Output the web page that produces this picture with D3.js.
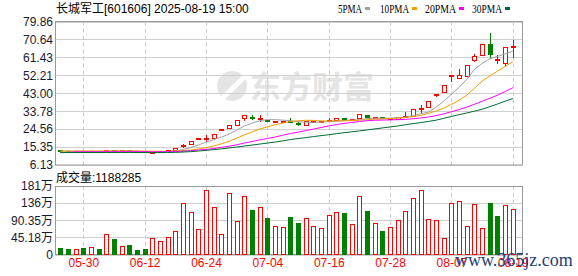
<!DOCTYPE html>
<html>
<head>
<meta charset="utf-8">
<script src="https://cdn.jsdelivr.net/npm/d3@7"></script>
<style>
body { margin: 0; background: #fff; }
svg { display: block; font-family: "Liberation Sans", Arial, "Noto Sans CJK SC", sans-serif; }
</style>
</head>
<body>
<svg width="578" height="276"></svg>
<script>
// trading days shown on the chart
const dates = ["05-27","05-28","05-29","05-30","06-03","06-04","06-05","06-06","06-09","06-10",
  "06-11","06-12","06-13","06-16","06-17","06-18","06-19","06-20","06-23","06-24",
  "06-25","06-26","06-27","06-30","07-01","07-02","07-03","07-04","07-07","07-08",
  "07-09","07-10","07-11","07-14","07-15","07-16","07-17","07-18","07-21","07-22",
  "07-23","07-24","07-25","07-28","07-29","07-30","07-31","08-01","08-04","08-05",
  "08-06","08-07","08-08","08-11","08-12","08-13","08-14","08-15","08-18","08-19"];

const opens = [13.40,13.30,13.20,13.28,13.20,13.28,13.70,13.80,13.50,13.35,
  13.05,12.90,12.70,12.78,12.95,13.45,16.06,16.73,19.24,19.60,
  19.95,23.99,24.72,26.46,30.04,30.35,29.95,29.17,28.15,28.35,
  28.55,27.25,26.61,28.00,28.30,29.05,28.81,30.00,28.90,30.04,
  31.80,30.30,30.70,29.80,29.50,31.10,30.86,35.00,35.67,41.80,
  43.51,51.85,50.52,51.85,59.89,62.45,68.24,60.10,58.20,66.50];
const closes = [13.28,13.22,13.26,13.20,13.27,13.22,13.78,13.55,13.60,13.05,
  12.85,12.75,12.78,12.90,13.40,14.68,16.37,18.27,19.65,19.85,
  21.85,24.41,26.35,28.91,31.73,30.05,30.15,28.30,28.45,28.50,
  28.40,27.05,28.51,28.60,28.70,29.20,30.20,29.20,29.50,32.24,
  30.70,30.75,29.90,30.00,30.60,31.30,34.80,35.20,38.90,42.10,
  47.09,51.90,52.20,57.33,61.94,68.08,63.12,60.30,66.40,66.90];
const highs = [13.45,13.35,13.32,13.33,13.36,13.30,13.95,13.85,13.68,13.40,
  13.10,12.95,12.85,12.98,13.45,14.84,16.88,18.40,19.80,21.34,
  22.00,24.50,26.45,29.00,31.99,31.58,31.73,29.30,28.60,28.60,
  30.04,27.98,28.60,28.80,28.90,30.04,30.30,30.10,29.60,32.40,
  32.00,31.00,30.90,30.20,30.80,33.11,35.00,36.85,39.00,42.84,
  47.30,52.00,55.60,57.50,63.32,68.20,73.72,62.45,66.60,70.13];
const lows = [13.20,13.15,13.16,13.12,13.15,13.16,13.55,13.50,13.40,13.00,
  12.80,12.70,12.65,12.72,12.90,13.40,15.09,16.60,19.10,18.06,
  19.80,23.90,24.60,26.30,28.90,29.17,28.30,28.20,27.48,28.20,
  28.25,26.25,26.50,27.90,28.20,28.00,28.70,29.10,28.80,29.90,
  30.50,30.20,29.80,29.60,29.40,30.04,30.70,32.09,35.50,41.10,
  43.30,48.78,50.40,51.70,59.02,62.30,60.56,58.20,56.97,61.07];

// volume in 万 shares
const volumes = [15.7,13,12,16,18,13,54,39,21,24,
  10.5,13,41,34,44.5,60,135,112,65.5,168,
  125,54,162,88,154,115,125,95,73,71,
  97,81,94,75,68,102,110,107,79,152,
  113,81,60,71,89,113,149,168,92,89,
  42,134,141,73,131,68,134,99.6,128,118.8285];

const ma5 = [13.25,13.25,13.25,13.24,13.24,13.24,13.30,13.35,13.40,13.40,
  13.30,12.80,12.75,12.80,12.95,13.30,14.07,15.09,16.37,17.91,
  19.19,20.47,22.00,24.05,26.10,27.63,28.91,29.43,29.43,29.17,
  28.91,28.40,28.15,27.99,28.15,28.40,28.66,28.91,29.17,29.43,
  29.94,30.19,30.19,30.19,30.45,30.71,31.47,32.50,33.27,35.83,
  38.90,42.48,46.07,50.16,55.28,58.35,60.66,61.94,63.22,64.65];
const ma10 = [13.30,13.30,13.30,13.28,13.28,13.27,13.30,13.33,13.35,13.35,
  13.32,13.28,13.22,13.18,13.15,13.25,13.55,13.80,14.35,15.05,
  15.90,17.00,18.30,19.90,21.60,23.10,24.60,25.70,26.80,27.70,
  28.45,28.85,29.10,29.05,28.80,28.75,28.75,28.85,28.95,29.15,
  29.40,29.70,29.80,30.00,30.20,30.55,31.00,31.60,32.60,33.90,
  35.40,37.30,39.40,42.00,45.60,49.20,51.90,54.30,56.80,59.20];
const ma20 = [12.50,12.60,12.90,12.92,12.95,12.95,12.97,12.98,13.00,13.00,
  13.00,12.98,12.96,12.95,12.96,13.05,13.20,13.45,13.80,14.15,
  14.60,15.20,15.80,16.50,17.40,18.20,19.00,19.75,20.50,21.40,
  22.30,23.00,23.80,24.60,25.40,26.20,26.90,27.50,28.00,28.50,
  28.90,29.10,29.20,29.30,29.40,29.60,29.90,30.30,30.80,31.50,
  32.40,33.50,34.60,35.90,37.30,38.90,40.40,42.00,43.90,45.80];
const ma30 = [12.53,12.53,12.53,12.53,12.53,12.53,12.53,12.53,12.53,12.53,
  12.53,12.53,12.53,12.53,12.53,12.63,12.79,12.99,13.30,13.66,
  14.02,14.43,14.89,15.35,15.86,16.37,16.88,17.39,17.91,18.52,
  19.19,19.70,20.21,20.72,21.23,21.69,22.21,22.72,23.18,23.64,
  24.15,24.67,25.18,25.69,26.20,26.82,27.38,27.94,28.51,29.17,
  30.09,31.06,31.99,32.86,33.78,34.80,36.08,37.46,38.90,40.28];

const priceTicks = [6.13,15.35,24.56,33.78,43.00,52.21,61.43,70.64,79.86];
const volTicks = [0,45.18,90.35,135.53,180.7];
const volTickLabels = ["0","45.18万","90.35万","136万","181万"];
const xLabels = ["05-30","06-12","06-24","07-04","07-16","07-28","08-07","08-19"];
const legendLabels = ["5PMA","10PMA","20PMA","30PMA"];

const RED = "#ff0000", GREEN = "#008000";
const maColors = ["#a0a0a0","#f0a000","#ff00ff","#006b30"];

const left = 55, right = 522;
const x = d3.scalePoint().domain(dates).range([60.3, 512.8]);
const y = d3.scaleLinear().domain([6.13, 79.86]).range([165, 21.5]);
const yv = d3.scaleLinear().domain([0, 180.7]).range([254.5, 186]);

const svg = d3.select("svg");
svg.append("rect").attr("width", 578).attr("height", 276).attr("fill", "#fff");

// watermark
const wm = svg.append("g").attr("fill", "#e4e4e4");
wm.append("circle").attr("cx", 232).attr("cy", 86).attr("r", 15);
wm.append("path").attr("d", "M220,97 L244,74 L247,78 L224,100 Z").attr("fill", "#fff");
wm.append("text").attr("x", 250).attr("y", 98)
  .attr("font-size", 31).attr("font-weight", "bold")
  .attr("font-family", "'Noto Sans CJK SC', sans-serif")
  .text("东方财富");

// horizontal grid
svg.append("g").attr("transform", `translate(${left},0)`)
  .call(d3.axisLeft(y).tickValues(priceTicks).tickSize(-(right - left)).tickFormat(""))
  .call(g => g.select(".domain").remove())
  .call(g => g.selectAll("line").attr("stroke", "#d0d0d0").attr("shape-rendering", "crispEdges"));
svg.append("g").attr("transform", `translate(${left},0)`)
  .call(d3.axisLeft(yv).tickValues(volTicks).tickSize(-(right - left)).tickFormat(""))
  .call(g => g.select(".domain").remove())
  .call(g => g.selectAll("line").attr("stroke", "#d0d0d0").attr("shape-rendering", "crispEdges"));

// vertical dashed grid
[[21.5, 165], [186, 254.5]].forEach(([t, b]) => {
  svg.append("g").selectAll("line").data(xLabels).enter().append("line")
    .attr("x1", d => Math.round(x(d)) + 0.5).attr("x2", d => Math.round(x(d)) + 0.5)
    .attr("y1", t).attr("y2", b)
    .attr("stroke", "#cccccc").attr("stroke-dasharray", "4,3");
});

// panel borders
svg.append("rect").attr("x", left + 0.5).attr("y", 21.5).attr("width", right - left).attr("height", 143.5)
  .attr("fill", "none").attr("stroke", "#999");
svg.append("rect").attr("x", left + 0.5).attr("y", 186.5).attr("width", right - left).attr("height", 68)
  .attr("fill", "none").attr("stroke", "#999");

// y labels
svg.append("g").attr("transform", `translate(${left - 1},0)`)
  .call(d3.axisLeft(y).tickValues(priceTicks).tickSize(0).tickPadding(1).tickFormat(d3.format(".2f")))
  .call(g => g.select(".domain").remove())
  .call(g => g.selectAll("text").attr("font-size", 12).attr("fill", "#1a1a2e")
    .attr("font-family", "'Liberation Sans', Arial, sans-serif"));
svg.append("g").attr("transform", `translate(${left - 1},0)`)
  .call(d3.axisLeft(yv).tickValues(volTicks).tickSize(0).tickPadding(1)
    .tickFormat((d, i) => volTickLabels[i]))
  .call(g => g.select(".domain").remove())
  .call(g => g.selectAll("text").attr("font-size", 12).attr("fill", "#1a1a2e")
    .attr("font-family", "'Liberation Sans', Arial, 'Noto Sans CJK SC', sans-serif"));

// x labels
svg.append("g").attr("transform", "translate(0,258)")
  .call(d3.axisBottom(x).tickValues(xLabels).tickSize(0).tickPadding(0))
  .call(g => g.select(".domain").remove())
  .call(g => g.selectAll("text").attr("font-size", 12).attr("fill", RED)
    .attr("font-family", "'Liberation Sans', Arial, sans-serif"));

// candles
const candleColor = i => closes[i] > opens[i] ? RED : closes[i] < opens[i] ? GREEN
  : (i === 0 || closes[i] >= closes[i - 1] ? RED : GREEN);
const cx = i => Math.round(x(dates[i])) + 0.5;

const candles = svg.append("g").attr("shape-rendering", "crispEdges");
candles.selectAll(".wick").data(dates).enter().append("line")
  .attr("x1", (d, i) => cx(i)).attr("x2", (d, i) => cx(i))
  .attr("y1", (d, i) => y(highs[i])).attr("y2", (d, i) => y(lows[i]))
  .attr("stroke", (d, i) => candleColor(i));
candles.selectAll(".body").data(dates).enter().append("rect")
  .attr("x", (d, i) => cx(i) - 2)
  .attr("width", 4)
  .attr("y", (d, i) => y(Math.max(opens[i], closes[i])))
  .attr("height", (d, i) => Math.max(1, y(Math.min(opens[i], closes[i])) - y(Math.max(opens[i], closes[i]))))
  .attr("fill", (d, i) => candleColor(i) === RED ? "#fff" : GREEN)
  .attr("stroke", (d, i) => candleColor(i));

// moving averages
[ma5, ma10, ma20, ma30].forEach((ma, k) => {
  svg.append("path").datum(ma)
    .attr("fill", "none").attr("stroke", maColors[k]).attr("stroke-width", 1)
    .attr("d", d3.line().x((d, i) => x(dates[i])).y(d => y(d)));
});

// volume bars
const volColor = i => i === 0 ? candleColor(0) : (closes[i] >= closes[i - 1] ? RED : GREEN);
svg.append("g").attr("shape-rendering", "crispEdges")
  .selectAll("rect").data(volumes).enter().append("rect")
  .attr("x", (d, i) => cx(i) - 2)
  .attr("width", 4)
  .attr("y", d => yv(d))
  .attr("height", d => yv(0) - yv(d))
  .attr("fill", (d, i) => volColor(i) === RED ? "#fff" : GREEN)
  .attr("stroke", (d, i) => volColor(i));

// title and volume caption
svg.append("text").attr("x", 56).attr("y", 13).attr("font-size", 12).attr("fill", "#000")
  .text("长城军工[601606] 2025-08-19 15:00");
svg.append("text").attr("x", 56).attr("y", 182).attr("font-size", 12).attr("fill", "#000")
  .text("成交量:" + Math.round(volumes[volumes.length - 1] * 10000));

// legend
const legX = [338, 380, 425, 472];
const legW = [24, 29, 31, 30];
const legend = svg.append("g").attr("font-family", "'Liberation Serif', 'Times New Roman', serif")
  .attr("font-size", 12);
legendLabels.forEach((t, k) => {
  legend.append("text").attr("x", legX[k]).attr("y", 12.5).attr("fill", "#000")
    .attr("textLength", legW[k]).attr("lengthAdjust", "spacingAndGlyphs").text(t);
  legend.append("rect").attr("x", legX[k] + legW[k] + 3).attr("y", 7).attr("width", 5).attr("height", 3)
    .attr("fill", maColors[k]);
});

// site watermark
svg.append("text").attr("x", 455).attr("y", 266).attr("font-size", 18)
  .attr("font-family", "'Liberation Serif', 'Times New Roman', serif")
  .attr("fill", "#1f3d78").text("www.365jz.com");
</script>
</body>
</html>
